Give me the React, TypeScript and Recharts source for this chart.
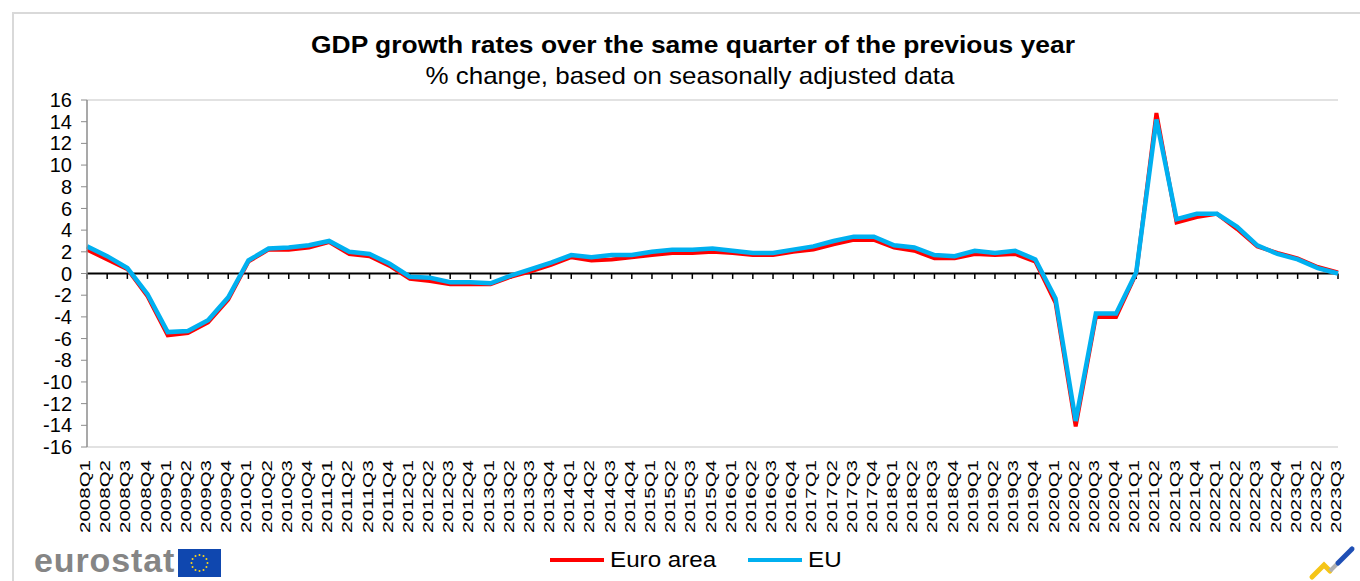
import { CartesianGrid, Line, LineChart, ReferenceLine, XAxis, YAxis } from "recharts";

document.body.style.margin = "0";

const FONT = '"Liberation Sans", Arial, sans-serif';

const quarters = [
  "2008Q1", "2008Q2", "2008Q3", "2008Q4",
  "2009Q1", "2009Q2", "2009Q3", "2009Q4",
  "2010Q1", "2010Q2", "2010Q3", "2010Q4",
  "2011Q1", "2011Q2", "2011Q3", "2011Q4",
  "2012Q1", "2012Q2", "2012Q3", "2012Q4",
  "2013Q1", "2013Q2", "2013Q3", "2013Q4",
  "2014Q1", "2014Q2", "2014Q3", "2014Q4",
  "2015Q1", "2015Q2", "2015Q3", "2015Q4",
  "2016Q1", "2016Q2", "2016Q3", "2016Q4",
  "2017Q1", "2017Q2", "2017Q3", "2017Q4",
  "2018Q1", "2018Q2", "2018Q3", "2018Q4",
  "2019Q1", "2019Q2", "2019Q3", "2019Q4",
  "2020Q1", "2020Q2", "2020Q3", "2020Q4",
  "2021Q1", "2021Q2", "2021Q3", "2021Q4",
  "2022Q1", "2022Q2", "2022Q3", "2022Q4",
  "2023Q1", "2023Q2", "2023Q3",
];

// % change over same quarter of previous year
const euroArea = [
  2.2, 1.3, 0.4, -2.1,
  -5.7, -5.5, -4.5, -2.4,
  1.1, 2.2, 2.2, 2.4,
  2.9, 1.8, 1.6, 0.7,
  -0.5, -0.7, -1.0, -1.0,
  -1.0, -0.3, 0.2, 0.8,
  1.5, 1.2, 1.3, 1.5,
  1.7, 1.9, 1.9, 2.0,
  1.9, 1.7, 1.7, 2.0,
  2.2, 2.7, 3.1, 3.1,
  2.4, 2.1, 1.4, 1.4,
  1.8, 1.7, 1.8, 1.1,
  -2.7, -14.1, -4.0, -4.0,
  0.0, 14.8, 4.7, 5.2,
  5.5, 4.1, 2.5, 1.9,
  1.4, 0.6, 0.1,
];

const eu = [
  2.5, 1.6, 0.5, -1.9,
  -5.4, -5.3, -4.3, -2.2,
  1.2, 2.3, 2.4, 2.6,
  3.0, 2.0, 1.8, 0.9,
  -0.3, -0.4, -0.8, -0.8,
  -0.9, -0.2, 0.4, 1.0,
  1.7, 1.5, 1.7, 1.7,
  2.0, 2.2, 2.2, 2.3,
  2.1, 1.9, 1.9, 2.2,
  2.5, 3.0, 3.4, 3.4,
  2.6, 2.4, 1.7, 1.6,
  2.1, 1.9, 2.1, 1.3,
  -2.3, -13.6, -3.7, -3.7,
  0.1, 14.2, 5.0, 5.5,
  5.5, 4.3, 2.6, 1.8,
  1.3, 0.5, 0.0,
];

const yTicks = [-16, -14, -12, -10, -8, -6, -4, -2, 0, 2, 4, 6, 8, 10, 12, 14, 16];

const data = quarters.map((q, i) => ({ q, euro: euroArea[i], eu: eu[i] }));

function QuarterTick({ x, y, payload }: any) {
  return (
    <text
      transform={`translate(${x - 2},${y}) rotate(-90)`}
      textAnchor="end"
      dy="0.36em"
      fontSize={14}
      textLength={73}
      lengthAdjust="spacingAndGlyphs"
      fill="#000"
      fontFamily={FONT}
    >
      {payload.value}
    </text>
  );
}

function LegendItem({ color, label }: { color: string; label: string }) {
  return (
    <div style={{ display: "flex", alignItems: "center", marginRight: 30 }}>
      <div style={{ width: 54, height: 4, background: color, marginRight: 6 }} />
      <span style={{ fontSize: 22, transform: "scaleX(1.1)", transformOrigin: "left center", display: "inline-block" }}>
        {label}
      </span>
    </div>
  );
}

export default function App() {
  return (
    <div
      style={{
        position: "relative",
        width: 1360,
        height: 581,
        overflow: "hidden",
        background: "#fff",
        fontFamily: FONT,
        color: "#000",
      }}
    >
      {/* outer frame */}
      <div
        style={{
          position: "absolute",
          left: 12,
          top: 12,
          width: 1400,
          height: 600,
          borderLeft: "2px solid #d9d9d9",
          borderTop: "2px solid #d9d9d9",
        }}
      />

      <LineChart
        width={1360}
        height={581}
        data={data}
        margin={{ top: 100, right: 22, left: 0, bottom: 0 }}
        style={{ fontFamily: FONT }}
      >
        <CartesianGrid vertical={false} stroke="#d9d9d9" strokeWidth={1.5} />
        <XAxis
          dataKey="q"
          interval={0}
          axisLine={false}
          tickLine={false}
          tickSize={0}
          tickMargin={13}
          height={134}
          tick={<QuarterTick />}
        />
        <YAxis
          yAxisId="left"
          domain={[-16, 16]}
          ticks={yTicks}
          interval={0}
          width={87}
          tickSize={6}
          tickMargin={9}
          axisLine={{ stroke: "#8c8c8c", strokeWidth: 1.5 }}
          tickLine={{ stroke: "#8c8c8c" }}
          tick={{ fontSize: 20, fill: "#000" }}
        />
        <YAxis
          yAxisId="right"
          orientation="right"
          domain={[-16, 16]}
          width={0}
          tick={false}
          axisLine={{ stroke: "#d9d9d9", strokeWidth: 1.5 }}
          tickLine={false}
        />
        <ReferenceLine yAxisId="left" y={0} stroke="#000" strokeWidth={2} />
        {quarters.map((q) => (
          <ReferenceLine
            key={`tick-${q}`}
            yAxisId="left"
            segment={[
              { x: q, y: 0 },
              { x: q, y: -0.5 },
            ]}
            stroke="#000"
            strokeWidth={1.5}
          />
        ))}
        <Line
          yAxisId="left"
          type="linear"
          dataKey="euro"
          name="Euro area"
          stroke="#ff0000"
          strokeWidth={4}
          dot={false}
          isAnimationActive={false}
        />
        <Line
          yAxisId="left"
          type="linear"
          dataKey="eu"
          name="EU"
          stroke="#00b0f0"
          strokeWidth={4.5}
          dot={false}
          isAnimationActive={false}
        />
      </LineChart>

      {/* titles */}
      <div
        style={{
          position: "absolute",
          left: 693,
          top: 31,
          transform: "translateX(-50%) scaleX(1.1)",
          fontSize: 24,
          fontWeight: "bold",
          whiteSpace: "nowrap",
        }}
      >
        GDP growth rates over the same quarter of the previous year
      </div>
      <div
        style={{
          position: "absolute",
          left: 690,
          top: 62,
          transform: "translateX(-50%) scaleX(1.08)",
          fontSize: 24,
          whiteSpace: "nowrap",
        }}
      >
        % change, based on seasonally adjusted data
      </div>

      {/* legend */}
      <div style={{ position: "absolute", left: 550, top: 547, display: "flex" }}>
        <LegendItem color="#ff0000" label="Euro area" />
        <div style={{ width: 11 }} />
        <LegendItem color="#00b0f0" label="EU" />
      </div>

      {/* eurostat logo */}
      <div style={{ position: "absolute", left: 34, top: 541, display: "flex", alignItems: "center" }}>
        <span style={{ fontSize: 34, fontWeight: "bold", color: "#858585", letterSpacing: 0.9 }}>eurostat</span>
        <svg width={43} height={28} style={{ marginLeft: 3, marginTop: 4 }}>
          <rect width={43} height={28} fill="#0f47af" />
          {Array.from({ length: 12 }).map((_, k) => (
            <circle
              key={k}
              cx={21.5 + 8 * Math.cos((k * Math.PI) / 6)}
              cy={14 + 8 * Math.sin((k * Math.PI) / 6)}
              r={1}
              fill="#ffd617"
            />
          ))}
        </svg>
      </div>

      {/* small corner mark */}
      <svg style={{ position: "absolute", left: 1308, top: 545 }} width={50} height={36}>
        <path d="M4 32 L16 20 L22 26" stroke="#f5c518" strokeWidth={5} fill="none" strokeLinecap="round" />
        <path d="M22 26 L30 18" stroke="#b0b0b0" strokeWidth={4} fill="none" />
        <path d="M30 18 L44 4" stroke="#1f4fb5" strokeWidth={5} fill="none" strokeLinecap="round" />
      </svg>
    </div>
  );
}
